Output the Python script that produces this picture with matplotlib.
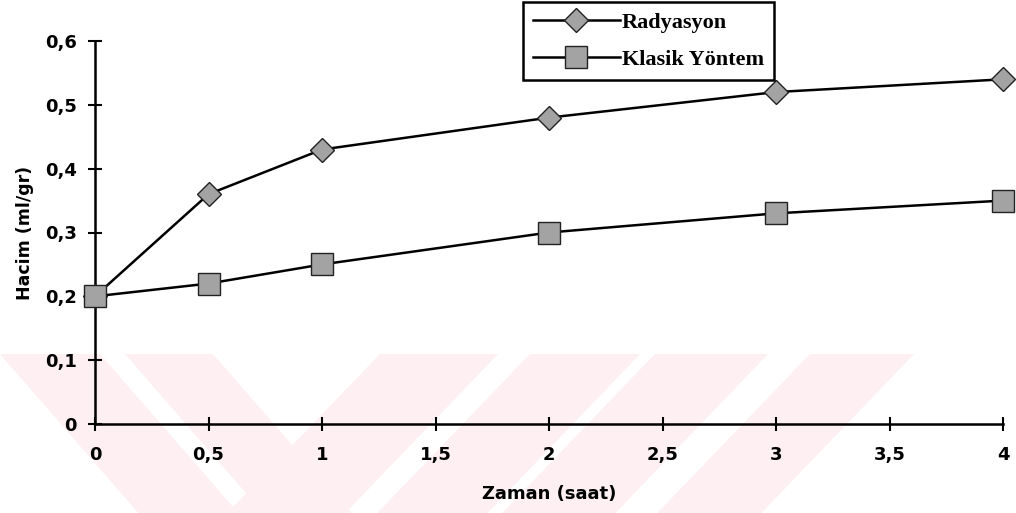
import matplotlib.pyplot as plt
from matplotlib.patches import Polygon
from matplotlib.ticker import FuncFormatter

# Zaman (saat) ve hacim (ml/gr) ölçümleri
zaman = [0, 0.5, 1, 2, 3, 4]
radyasyon = [0.20, 0.36, 0.43, 0.48, 0.52, 0.54]
klasik = [0.20, 0.22, 0.25, 0.30, 0.33, 0.35]

x_ticks = [0, 0.5, 1, 1.5, 2, 2.5, 3, 3.5, 4]
y_ticks = [0, 0.1, 0.2, 0.3, 0.4, 0.5, 0.6]

W, H = 1016, 513
fig = plt.figure(figsize=(W / 100, H / 100), dpi=100)

# arka plandaki soluk pembe şeritler, piksel ölçeğinde ayrı bir eksende
bg = fig.add_axes([0, 0, 1, 1], zorder=-1)
bg.set_xlim(0, W)
bg.set_ylim(H, 0)
bg.axis("off")
pink = "#fdeff2"
top, bot = 354, 513
bands = [((0, 100), 0.87), ((125, 213), 0.87),
         ((380, 498), -0.96), ((530, 640), -0.96),
         ((655, 768), -0.96), ((810, 914), -0.96)]
for (x0, x1), k in bands:
    s = k * (bot - top)
    pts = [(x0, top), (x1, top), (x1 + s, bot), (x0 + s, bot)]
    bg.add_patch(Polygon(pts, closed=True, facecolor=pink, edgecolor="none"))

ax = fig.add_axes([95 / W, 1 - 424 / H, (1003 - 95) / W, (424 - 41) / H])
ax.patch.set_alpha(0)

ax.plot(zaman, radyasyon, color="black", linewidth=1.8, marker="D",
        markersize=12.5, markerfacecolor="#a3a3a3", markeredgecolor="#222222",
        markeredgewidth=1.0, label="Radyasyon", clip_on=False, zorder=3)
ax.plot(zaman, klasik, color="black", linewidth=1.8, marker="s",
        markersize=16.5, markerfacecolor="#a3a3a3", markeredgecolor="#222222",
        markeredgewidth=1.0, label="Klasik Yöntem", clip_on=False, zorder=3)

ax.set_xlim(0, 4)
ax.set_ylim(0, 0.6)
ax.set_xticks(x_ticks)
ax.set_yticks(y_ticks)
fmt = FuncFormatter(lambda v, _: f"{v:g}".replace(".", ","))
ax.xaxis.set_major_formatter(fmt)
ax.yaxis.set_major_formatter(fmt)

for side in ("top", "right"):
    ax.spines[side].set_visible(False)
for side in ("left", "bottom"):
    ax.spines[side].set_linewidth(1.8)

ax.tick_params(axis="both", direction="inout", length=10, width=1.5,
               labelsize=13)
ax.tick_params(axis="x", pad=11)
ax.tick_params(axis="y", pad=8)
for lbl in ax.get_xticklabels() + ax.get_yticklabels():
    lbl.set_fontweight("bold")

ax.set_xlabel("Zaman (saat)", fontsize=13, fontweight="bold", labelpad=15)
ax.set_ylabel("Hacim (ml/gr)", fontsize=12.5, fontweight="bold", labelpad=8)

leg = ax.legend(loc="upper left", bbox_to_anchor=(523 / W, 1 - 2 / H),
                bbox_transform=fig.transFigure,
                prop={"family": "Liberation Serif", "weight": "bold", "size": 16},
                handlelength=3.9, handletextpad=0.1, labelspacing=0.75,
                borderpad=0.45, borderaxespad=0, fancybox=False,
                framealpha=1, edgecolor="black")
leg.get_frame().set_linewidth(1.8)

fig.savefig("out.png", dpi=100)
